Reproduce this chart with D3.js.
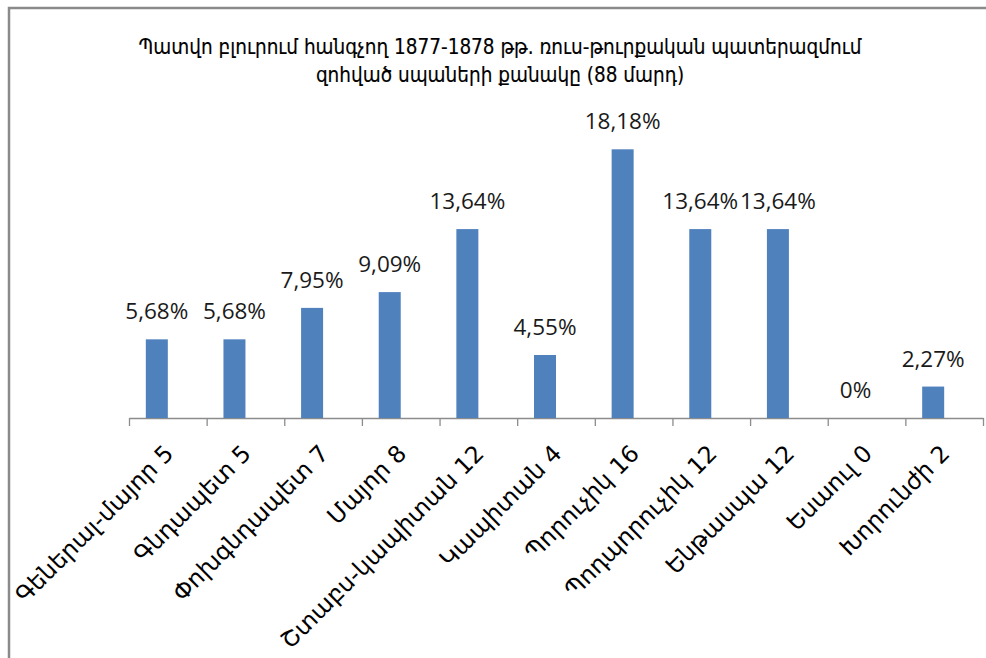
<!DOCTYPE html>
<html>
<head>
<meta charset="utf-8">
<script src="https://cdn.jsdelivr.net/npm/d3@7"></script>
<style>
  html, body { margin: 0; padding: 0; background: #fff; }
  svg { display: block; }
</style>
</head>
<body>
<script>
var titleLines = [
  "Պատվո բլուրում հանգչող  1877-1878 թթ. ռուս-թուրքական պատերազմում",
  "զոհված սպաների քանակը (88 մարդ)"
];
var ranks = ["Գեներալ-մայոր 5", "Գնդապետ 5", "Փոխգնդապետ 7", "Մայոր 8", "Շտաբս-կապիտան 12",
  "Կապիտան 4", "Պորուչիկ 16", "Պոդպորուչիկ 12", "Ենթասպա 12", "Եսաուլ 0", "Խորունժի 2"];
// bar heights (the 16 bar is drawn taller than its label)
var heights = [5.68, 5.68, 7.95, 9.09, 13.64, 4.55, 19.4, 13.64, 13.64, 0, 2.27];
var valueLabels = ["5,68%", "5,68%", "7,95%", "9,09%", "13,64%", "4,55%", "18,18%", "13,64%", "13,64%", "0%", "2,27%"];

var width = 986, height = 658;
var svg = d3.select("body").append("svg")
  .attr("width", width)
  .attr("height", height);

// outer frame, runs off right and bottom
svg.append("rect")
  .attr("x", 9).attr("y", 8)
  .attr("width", 1000).attr("height", 700)
  .attr("fill", "none")
  .attr("stroke", "#8a8a8a")
  .attr("stroke-width", 2.5);

// title
svg.append("g").selectAll("text")
  .data(titleLines)
  .enter()
  .append("text")
  .attr("x", 500)
  .attr("y", function(d, i) { return 54 + i * 28; })
  .attr("text-anchor", "middle")
  .attr("font-family", "DejaVu Sans Condensed, DejaVu Sans")
  .attr("font-stretch", "condensed")
  .attr("font-size", 20.5)
  .attr("fill", "#000")
  .attr("stroke", "#000")
  .attr("stroke-width", 0.15)
  .text(function(d) { return d; });

var x = d3.scaleBand().domain(ranks).range([129, 983]).padding(0);
var y = d3.scaleLinear().domain([0, 20]).range([418, 141]);
var barW = 22;

// axis with ticks on band edges
var edges = d3.scaleLinear().domain([0, ranks.length]).range([129, 983]);
var axis = svg.append("g")
  .attr("transform", "translate(0,418)")
  .call(d3.axisBottom(edges).tickValues(d3.range(ranks.length + 1)).tickSize(8).tickSizeOuter(0).tickFormat(""));
axis.selectAll("path, line").attr("stroke", "#8c8c8c").attr("stroke-width", 1.3);

svg.append("g").selectAll("rect")
  .data(heights)
  .enter()
  .append("rect")
  .attr("x", function(d, i) { return x(ranks[i]) + x.bandwidth() / 2 - barW; })
  .attr("y", function(d) { return y(d); })
  .attr("width", barW)
  .attr("height", function(d) { return y(0) - y(d); })
  .attr("fill", "#4f81bd");

svg.append("g").selectAll("text")
  .data(heights)
  .enter()
  .append("text")
  .attr("x", function(d, i) { return x(ranks[i]) + x.bandwidth() / 2 - barW / 2; })
  .attr("y", function(d) { return y(d) - 20; })
  .attr("text-anchor", "middle")
  .attr("font-family", "Open Sans")
  .attr("font-size", 22.5)
  .attr("fill", "#1a1a1a")
  .text(function(d, i) { return valueLabels[i]; });

svg.append("g").selectAll("text")
  .data(ranks)
  .enter()
  .append("text")
  .attr("transform", function(d) {
    return "translate(" + (x(d) + x.bandwidth() / 2 + 7) + ",455) rotate(-45)";
  })
  .attr("text-anchor", "end")
  .attr("font-family", "DejaVu Sans")
  .attr("font-size", 23.5)
  .attr("fill", "#000")
  .text(function(d) { return d; });
</script>
</body>
</html>
